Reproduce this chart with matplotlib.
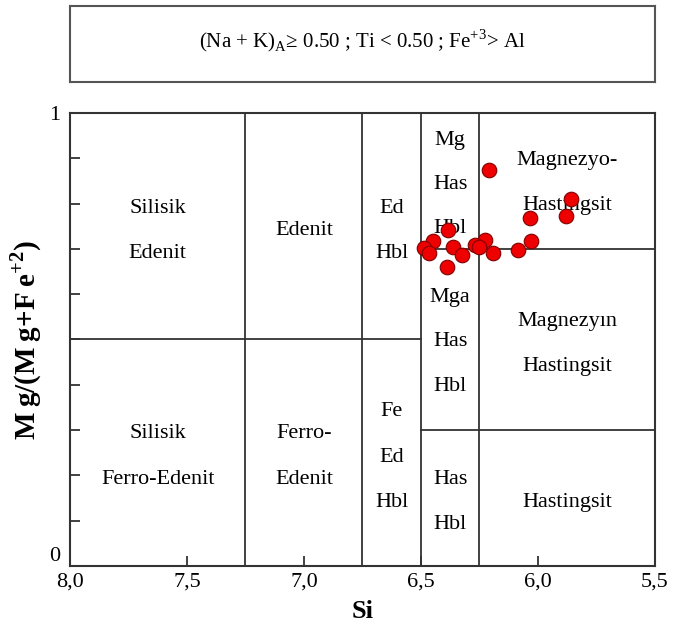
import numpy as np
import matplotlib
matplotlib.use("Agg")
import matplotlib.pyplot as plt

plt.rcParams['font.family'] = ['Liberation Serif', 'DejaVu Serif']
plt.rcParams['mathtext.fontset'] = 'custom'
plt.rcParams['mathtext.rm'] = 'Liberation Serif'
plt.rcParams['mathtext.bf'] = 'Liberation Serif:bold'

# amphibole analyses
si = [6.208, 5.860, 5.881, 6.033, 6.382, 6.450, 6.030, 6.225, 6.486,
      6.467, 6.362, 6.325, 6.268, 6.251, 6.191, 6.083, 6.389]
mg_ratio = [0.874, 0.810, 0.773, 0.768, 0.742, 0.718, 0.717, 0.720, 0.701,
            0.692, 0.705, 0.687, 0.709, 0.705, 0.690, 0.698, 0.661]

# field boundaries
vlines = [7.25, 6.75, 6.5, 6.25]
hlines = [(0.5, 8.0, 6.5), (0.7, 6.5, 5.5), (0.3, 6.5, 5.5)]

# field names (x, y, text)
fields = [
    (7.625, 0.79, "Silisik"), (7.625, 0.69, "Edenit"),
    (7.0, 0.74, "Edenit"),
    (6.625, 0.79, "Ed"), (6.625, 0.69, "Hbl"),
    (6.375, 0.94, "Mg"), (6.375, 0.843, "Has"), (6.375, 0.745, "Hbl"),
    (5.875, 0.895, "Magnezyo-"), (5.875, 0.795, "Hastingsit"),
    (6.375, 0.593, "Mga"), (6.375, 0.495, "Has"), (6.375, 0.397, "Hbl"),
    (5.875, 0.54, "Magnezyın"), (5.875, 0.44, "Hastingsit"),
    (6.625, 0.34, "Fe"), (6.625, 0.24, "Ed"), (6.625, 0.14, "Hbl"),
    (7.625, 0.292, "Silisik"), (7.625, 0.192, "Ferro-Edenit"),
    (7.0, 0.292, "Ferro-"), (7.0, 0.192, "Edenit"),
    (6.375, 0.192, "Has"), (6.375, 0.092, "Hbl"),
    (5.875, 0.14, "Hastingsit"),
]

xticks = [8.0, 7.5, 7.0, 6.5, 6.0, 5.5]
xticklabels = ["8,0", "7,5", "7,0", "6,5", "6,0", "5,5"]

line_col = "#333333"

fig = plt.figure(figsize=(6.73, 6.27), dpi=100)

# header box with the classification conditions
box = fig.add_axes([0.104, 0.869, 0.869, 0.121])
box.set_xticks([])
box.set_yticks([])
for s in box.spines.values():
    s.set_color("#555555")
    s.set_linewidth(1.5)
box.text(0.5, 0.55, r"(Na + K)$_{\rm A}$≥ 0.50 ; Ti < 0.50 ; Fe$^{+3}$> Al",
         ha="center", va="center", fontsize=15, transform=box.transAxes)

ax = fig.add_axes([0.104, 0.0973, 0.869, 0.7225])
ax.set_xlim(8.0, 5.5)
ax.set_ylim(0, 1)

for x in vlines:
    ax.axvline(x, color=line_col, lw=1.3)
for y, x0, x1 in hlines:
    ax.plot([x0, x1], [y, y], color=line_col, lw=1.3)

for x, y, t in fields:
    ax.text(x, y, t, ha="center", va="center", fontsize=16)

ax.scatter(si, mg_ratio, s=110, facecolor="#ee0000", edgecolor="#800000",
           linewidth=0.8, zorder=5)

ax.set_xticks(xticks)
ax.set_xticklabels(xticklabels, fontsize=16)
ax.set_yticks([0, 1])
ax.set_yticklabels(["0", "1"], fontsize=16)
ax.set_yticks(np.arange(0.1, 1.0, 0.1), minor=True)
ax.tick_params(axis="x", which="major", direction="in", length=7,
               width=1.3, color=line_col, pad=5)
ax.tick_params(axis="y", which="minor", direction="in", length=7,
               width=1.3, color=line_col)
ax.tick_params(axis="y", which="major", length=0, pad=7)
# lift the "0" label clear of the x tick labels
ax.get_yticklabels()[0].set_va("bottom")
for s in ax.spines.values():
    s.set_color(line_col)
    s.set_linewidth(1.5)

ax.set_xlabel("Si", fontsize=19, fontweight="bold", labelpad=6)
ax.set_ylabel("M\u2009g/(M\u2009g+F\u2009e" + r"$^{\mathbf{+2}}$)", fontsize=21,
              fontweight="bold", labelpad=4)

fig.savefig("out.png", dpi=100)
